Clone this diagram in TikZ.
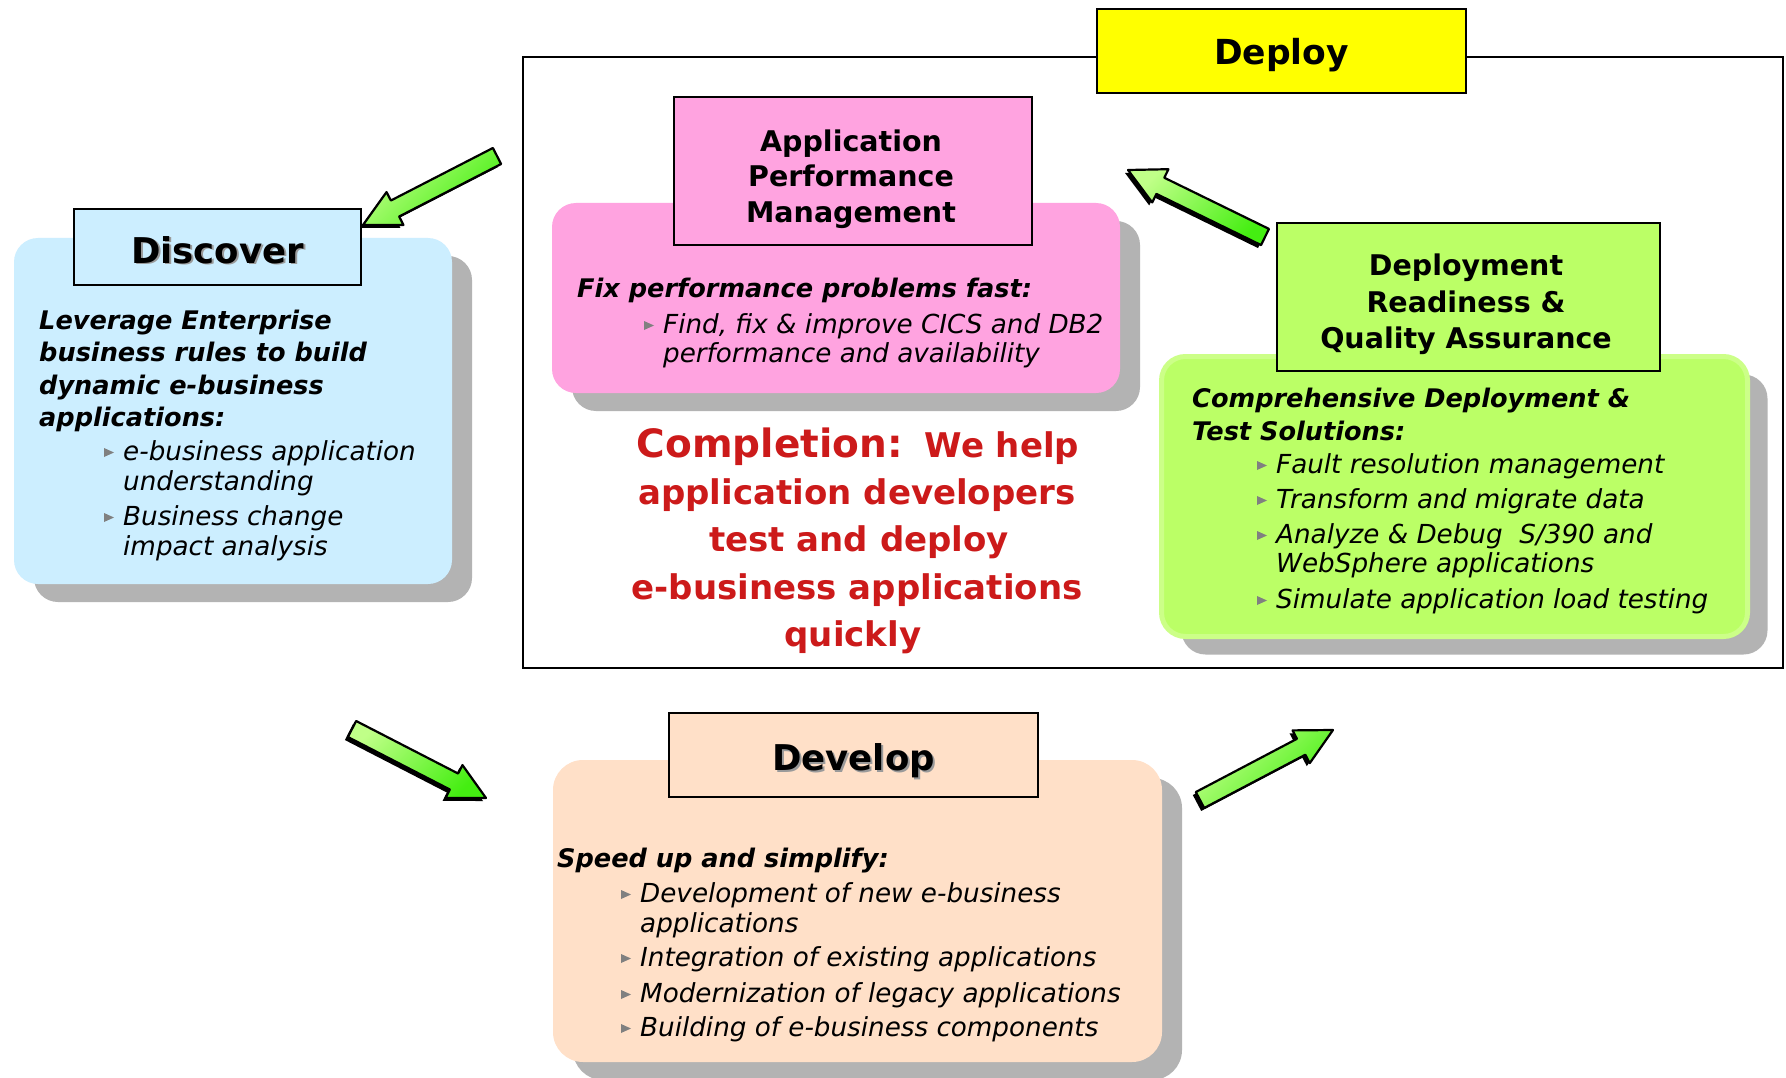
\documentclass[tikz,border=0pt]{standalone}
\usepackage{fontspec}
\setmainfont{DejaVu Sans}
\usetikzlibrary{calc,shadows}

\definecolor{discblue}{HTML}{CCEEFF}
\definecolor{apmpink}{HTML}{FFA3E0}
\definecolor{qagreen}{HTML}{BBFF66}
\definecolor{qarim}{HTML}{CCFF88}
\definecolor{devpeach}{HTML}{FFE0C8}
\definecolor{shadowgray}{HTML}{B3B3B3}
\definecolor{deployyellow}{HTML}{FFFF00}
\definecolor{bulletgray}{HTML}{808080}
\definecolor{complred}{HTML}{CC1A1A}
\definecolor{arrowlight}{HTML}{C0FF88}
\definecolor{arrowdark}{HTML}{44EE11}
\definecolor{titleshade}{HTML}{9A9A9A}

\tikzset{
  panel/.style={rounded corners=24pt, inner sep=0pt,
    general shadow={fill=shadowgray, shadow xshift=20pt, shadow yshift=-18pt}},
  labelbox/.style={draw=black, line width=2pt, inner sep=0pt},
  txt/.style={anchor=base west, inner sep=0pt},
  head/.style={txt, font=\fontsize{25.6}{30}\selectfont\bfseries\itshape},
  item/.style={txt, font=\fontsize{26.2}{30}\selectfont\itshape},
  titletxt/.style={anchor=base, inner sep=0pt, font=\fontsize{28.5}{34}\selectfont\bfseries},
  bigtitle/.style={anchor=base, inner sep=0pt, font=\fontsize{35.5}{40}\selectfont\bfseries},
  redtxt/.style={anchor=base, inner sep=0pt, text=complred, font=\fontsize{34}{40}\selectfont\bfseries},
  % light towards the upper left, deep green towards the lower right
  arrowbody/.style={draw=black, line width=2.2pt, line join=round,
    top color=arrowdark, bottom color=arrowlight, shading angle=-135},
}

% small grey triangle in front of a list line whose text starts at (#1,#2)
\newcommand\bul[2]{\fill[bulletgray] (#1-19,#2-12) -- ++(10,4.5) -- ++(-10,4.5) -- cycle;}
% bulleted list line: name, x, baseline y, text
\newcommand\itm[4]{\node[item] (#1) at (#2,#3) {#4}; \bul{#2}{#3}}

% outline of a block arrow from tail #1 to tip #2 (needs coordinate hb)
\newcommand\arrowpath[2]{($(#1)!9pt!90:(#2)$) -- ($(hb)!9pt!-90:(#1)$)
  -- ($(hb)!18.5pt!-90:(#1)$) -- (#2) -- ($(hb)!18.5pt!90:(#1)$)
  -- ($(hb)!9pt!90:(#1)$) -- ($(#1)!9pt!-90:(#2)$) -- cycle}
% block arrow with a dark extruded edge: tail, tip
\newcommand\greenarrow[2]{%
  \coordinate (hb) at ($(#2)!36pt!(#1)$);
  \begin{scope}[transform canvas={xshift=-3pt,yshift=-3pt}]
    \fill[black] \arrowpath{#1}{#2};
  \end{scope}
  \path[arrowbody] \arrowpath{#1}{#2};
}

\begin{document}
\begin{tikzpicture}[x=1pt,y=-1pt]
\useasboundingbox (0,0) rectangle (1786,1078);
\fill[white] (0,0) rectangle (1786,1078);
\clip (0,0) rectangle (1786,1078);

% ---------- Deploy frame ----------
\node[draw=black, line width=2pt, minimum width=1260, minimum height=611, inner sep=0pt]
  (deployframe) at (1153,362.5) {};
\node[labelbox, fill=deployyellow, minimum width=369, minimum height=84] (deploytitle) at (1281.5,51) {};
\node[anchor=base, inner sep=0pt, font=\fontsize{34.5}{40}\selectfont\bfseries] (deploytxt) at (1281.5,65) {Deploy};

% ---------- Discover ----------
\node[panel, fill=discblue, minimum width=438, minimum height=346] (discpanel) at (233,411) {};
\node[labelbox, fill=discblue, minimum width=287, minimum height=76] (disctitle) at (217.5,247) {};
\node[bigtitle, text=titleshade] (discshade) at (219.5,265) {Discover};
\node[bigtitle] (disctxt) at (217.5,263) {Discover};
\node[head] (dh1) at (39,329) {Leverage Enterprise};
\node[head] (dh2) at (39,361) {business rules to build};
\node[head] (dh3) at (39,394) {dynamic e-business};
\node[head] (dh4) at (39,426) {applications:};
\itm{di1}{123}{460}{e-business application}
\node[item] (di1b) at (123,490) {understanding};
\itm{di2}{123}{525}{Business change}
\node[item] (di2b) at (123,555) {impact analysis};

% ---------- Application Performance Management ----------
\node[panel, fill=apmpink, minimum width=568, minimum height=190] (apmpanel) at (836,298) {};
\node[labelbox, fill=apmpink, minimum width=358, minimum height=148] (apmtitle) at (853,171) {};
\node[titletxt] (apmt1) at (851,152) {Application};
\node[titletxt] (apmt2) at (851,187) {Performance};
\node[titletxt] (apmt3) at (851,223) {Management};
\node[head] (ah1) at (577,297) {Fix performance problems fast:};
\itm{ai1}{663}{333}{Find, fix \& improve CICS and DB2}
\node[item] (ai1b) at (663,362) {performance and availability};

% ---------- Completion statement ----------
\node[redtxt] (cl1) at (858,457) {\fontsize{39}{40}\selectfont Completion:\hspace{22pt}\fontsize{34}{40}\selectfont We help};
\node[redtxt] (cl2) at (857,504) {application developers};
\node[redtxt] (cl3) at (859,551) {test and deploy};
\node[redtxt] (cl4) at (857,599) {e-business applications};
\node[redtxt] (cl5) at (853,646) {quickly};

% ---------- Deployment Readiness & Quality Assurance ----------
\node[panel, fill=qagreen, draw=qarim, line width=5pt, minimum width=586, minimum height=280] (qapanel) at (1454.5,496.5) {};
\node[labelbox, fill=qagreen, minimum width=383, minimum height=148] (qatitle) at (1468.5,297) {};
\node[titletxt] (qat1) at (1466,276) {Deployment};
\node[titletxt] (qat2) at (1466,312) {Readiness \&};
\node[titletxt] (qat3) at (1466,348) {Quality Assurance};
\node[head] (qh1) at (1192,407) {Comprehensive Deployment \&};
\node[head] (qh2) at (1192,440) {Test Solutions:};
\itm{qi1}{1276}{473}{Fault resolution management}
\itm{qi2}{1276}{508}{Transform and migrate data}
\itm{qi3}{1276}{543}{Analyze \& Debug\ \ S/390 and}
\node[item] (qi3b) at (1276,572) {WebSphere applications};
\itm{qi4}{1276}{608}{Simulate application load testing}

% ---------- Develop ----------
\node[panel, fill=devpeach, rounded corners=30pt, minimum width=609, minimum height=302] (devpanel) at (857.5,911) {};
\node[labelbox, fill=devpeach, minimum width=369, minimum height=84] (devtitle) at (853.5,755) {};
\node[bigtitle, text=titleshade] (devshade) at (855.5,772) {Develop};
\node[bigtitle] (devtxt) at (853.5,770) {Develop};
\node[head] (vh1) at (557,867) {Speed up and simplify:};
\itm{vi1}{640}{902}{Development of new e-business}
\node[item] (vi1b) at (640,932) {applications};
\itm{vi2}{640}{966}{Integration of existing applications}
\itm{vi3}{640}{1002}{Modernization of legacy applications}
\itm{vi4}{640}{1036}{Building of e-business components}

% ---------- cycle arrows ----------
\coordinate (a1tail) at (497,156);  \coordinate (a1tip) at (363,225);
\coordinate (a2tail) at (1265,237); \coordinate (a2tip) at (1128,170);
\coordinate (a3tail) at (352,729);  \coordinate (a3tip) at (486,798);
\coordinate (a4tail) at (1200,800); \coordinate (a4tip) at (1333,730);
\greenarrow{a1tail}{a1tip}
\greenarrow{a2tail}{a2tip}
\greenarrow{a3tail}{a3tip}
\greenarrow{a4tail}{a4tip}
\end{tikzpicture}
\end{document}
